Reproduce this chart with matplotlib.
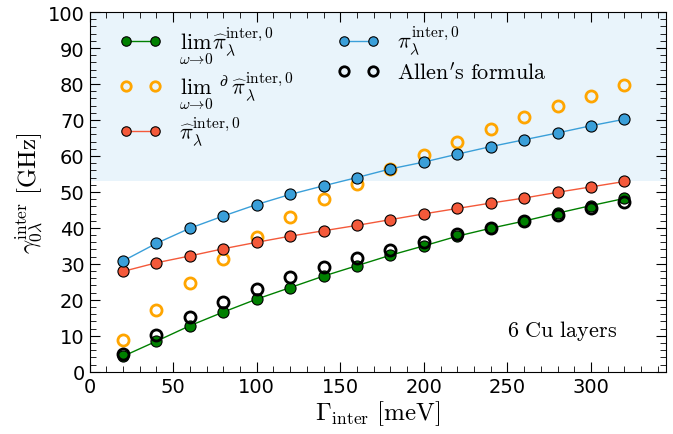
import matplotlib
matplotlib.use("Agg")
import matplotlib.pyplot as plt
from matplotlib.ticker import MultipleLocator

plt.rcParams['mathtext.fontset'] = 'cm'

gamma = [20, 40, 60, 80, 100, 120, 140, 160, 180, 200, 220, 240, 260, 280, 300, 320]
lim_hat = [4.3, 8.5, 12.8, 16.6, 20.2, 23.4, 26.6, 29.5, 32.4, 35.0, 37.7, 39.9, 41.9, 44.1, 46.2, 48.2]
lim_dhat = [8.9, 17.2, 24.7, 31.3, 37.5, 43.0, 48.0, 52.1, 56.4, 60.4, 64.0, 67.4, 70.7, 73.8, 76.8, 79.7]
pi_hat = [27.9, 30.3, 32.2, 34.2, 36.0, 37.7, 39.2, 40.7, 42.3, 43.9, 45.4, 46.9, 48.3, 49.9, 51.4, 52.9]
pi_plain = [30.8, 35.7, 39.9, 43.3, 46.5, 49.3, 51.7, 54.0, 56.4, 58.3, 60.5, 62.6, 64.5, 66.4, 68.4, 70.2]
allen = [5.0, 10.2, 15.1, 19.3, 23.0, 26.3, 29.0, 31.7, 33.9, 36.2, 38.2, 40.1, 41.8, 43.6, 45.5, 47.1]

fig, ax = plt.subplots(figsize=(6.73, 4.35), dpi=100)
fig.subplots_adjust(left=0.133, right=0.99, top=0.97, bottom=0.143)

ax.axhspan(53, 100, color='#e9f4fb', zorder=0, lw=0)

ax.plot(gamma, lim_hat, '-o', color='green', mfc='green', mec='black', mew=0.8, ms=8, lw=1,
        label=r'$\lim_{\omega\to 0}\widehat{\pi}^{\rm inter,0}_\lambda$')
ax.plot(gamma, lim_dhat, 'o', color='orange', mfc='none', mec='orange', mew=2, ms=8,
        label=r'$\lim_{\omega\to 0}\ {}^{\partial}\widehat{\pi}^{\rm inter,0}_\lambda$')
ax.plot(gamma, pi_hat, '-o', color='#f4593a', mfc='#f4593a', mec='black', mew=0.8, ms=8, lw=1,
        label=r'$\widehat{\pi}^{\rm inter,0}_\lambda$')
ax.plot(gamma, pi_plain, '-o', color='#3a9fd9', mfc='#3a9fd9', mec='black', mew=0.8, ms=8, lw=1,
        label=r'$\pi^{\rm inter,0}_\lambda$')
ax.plot(gamma, allen, 'o', color='black', mfc='none', mec='black', mew=2, ms=8,
        label=r"$\rm Allen's\ formula$")

ax.set_xlim(0, 345)
ax.set_ylim(0, 100)
ax.xaxis.set_major_locator(MultipleLocator(50))
ax.xaxis.set_minor_locator(MultipleLocator(10))
ax.yaxis.set_major_locator(MultipleLocator(10))
ax.yaxis.set_minor_locator(MultipleLocator(2))
ax.tick_params(which='both', direction='in', top=True, right=True, labelsize=14)
ax.tick_params(which='major', length=7)
ax.tick_params(which='minor', length=4)

ax.set_xlabel(r'$\Gamma_{\rm inter}\ [\rm meV]$', fontsize=18, labelpad=2)
ax.set_ylabel(r'$\gamma_{0\lambda}^{\rm inter}\ [\rm GHz]$', fontsize=18, labelpad=2)

ax.text(0.915, 0.1, r'$\rm 6\ Cu\ layers$', transform=ax.transAxes, ha='right', fontsize=16)

ax.legend(loc='upper left', bbox_to_anchor=(0.021, 1.017), ncol=2, frameon=False,
          fontsize=16, numpoints=2, markerscale=0.85, handlelength=1.9,
          columnspacing=1.95, labelspacing=0.15, borderaxespad=0.4)

fig.savefig('out.png')
